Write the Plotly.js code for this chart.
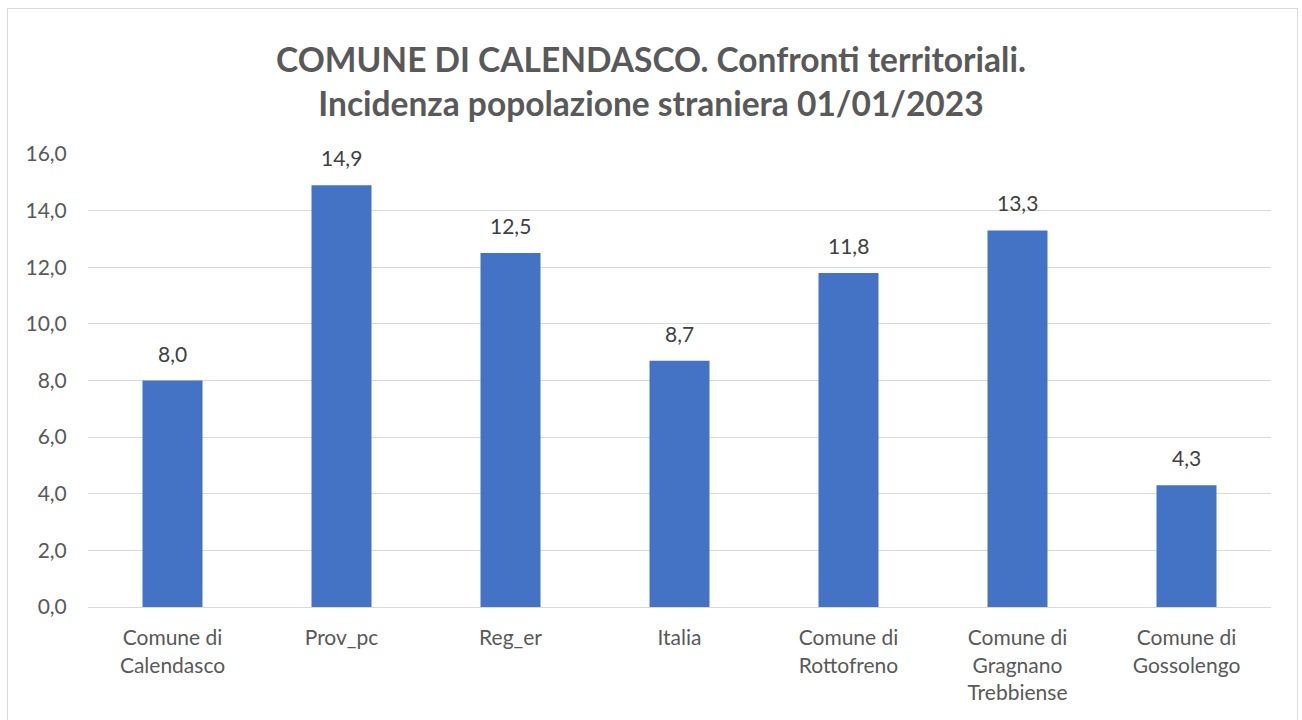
<!DOCTYPE html>
<html><head><meta charset="utf-8">
<script src="https://cdn.plot.ly/plotly-3.0.1.min.js"></script>
<style>
html,body{margin:0;padding:0;background:#fff;}
#wrap{position:relative;width:1302px;height:720px;overflow:hidden;}
#frame{position:absolute;left:7px;top:8px;width:1291px;height:720px;border:1px solid #d9d9d9;box-sizing:border-box;pointer-events:none;}
#chart{position:absolute;left:0;top:0;width:1302px;height:720px;}
</style></head>
<body><div id="wrap"><div id="chart"></div><div id="frame"></div></div>
<script>
const categories = ["Comune di<br>Calendasco","Prov_pc","Reg_er","Italia","Comune di<br>Rottofreno","Comune di<br>Gragnano<br>Trebbiense","Comune di<br>Gossolengo"];
const values = [8.0, 14.9, 12.5, 8.7, 11.8, 13.3, 4.3];
const yTicks = [0,2,4,6,8,10,12,14,16];

const font = "Lato, 'Open Sans', sans-serif";
const trace = {
  type:'bar', x:categories, y:values,
  marker:{color:'#4472C4'}, hoverinfo:'skip'
};
const annotations = categories.map((c,i)=>({
  x:c, y:values[i], xref:'x', yref:'y', yanchor:'bottom', yshift:13,
  text:values[i].toFixed(1).replace('.',','), showarrow:false,
  font:{family:font,size:21,color:'#404040'}
}));
const layout = {
  width:1302, height:720,
  margin:{l:88,r:31,t:154,b:113},
  separators:',.',
  paper_bgcolor:'#fff', plot_bgcolor:'#fff',
  showlegend:false,
  bargap:0.645,
  title:{text:'<b>COMUNE DI CALENDASCO. Confronti territoriali.<br>Incidenza popolazione straniera 01/01/2023</b>',
    x:0.5, xanchor:'center', y:0.9, yanchor:'middle',
    font:{family:font,size:33.5,color:'#595959'}},
  xaxis:{type:'category', showgrid:false, zeroline:false, showline:false,
    ticks:'outside', ticklen:12, tickcolor:'rgba(0,0,0,0)',
    tickfont:{family:font,size:21,color:'#595959'}},
  yaxis:{range:[0,16], tickvals:yTicks, tickformat:'.1f', showgrid:true, gridcolor:'#d9d9d9', gridwidth:1,
    zeroline:true, zerolinecolor:'#d9d9d9', zerolinewidth:1, showline:false,
    ticks:'outside', ticklen:16, tickcolor:'rgba(0,0,0,0)',
    tickfont:{family:font,size:21,color:'#595959'}},
  annotations:annotations
};
Plotly.newPlot('chart',[trace],layout,{displayModeBar:false,staticPlot:true});
</script></body></html>
